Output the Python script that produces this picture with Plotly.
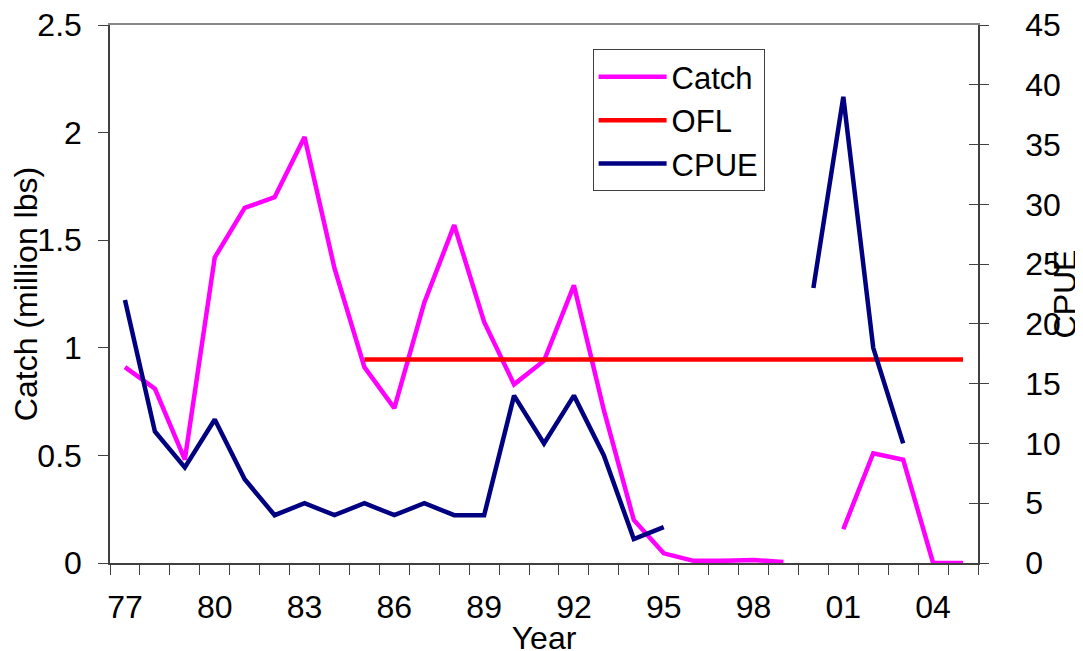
import plotly.graph_objects as go

# ---- data ----
years = list(range(1977, 2006))
catch = [0.91, 0.81, 0.48, 1.42, 1.65, 1.70, 1.98, 1.37, 0.91, 0.72,
         1.21, 1.57, 1.12, 0.83, 0.94, 1.29, 0.71, 0.20, 0.045, 0.01,
         0.01, 0.014, 0.005, None, 0.157, 0.51, 0.48, 0.0, 0.0]
ofl = [None] * 8 + [0.946] * 21
cpue = [22, 11, 8, 12, 7, 4, 5, 4, 5, 4,
        5, 4, 4, 14, 10, 14, 9, 2, 3, None,
        None, None, None, 23, 39, 18, 10, None, None]
label_years = [1977, 1980, 1983, 1986, 1989, 1992, 1995, 1998, 2001, 2004]
label_text = ["77", "80", "83", "86", "89", "92", "95", "98", "01", "04"]

FONT = "Liberation Sans, Arial, sans-serif"
AX = "#404040"
FS = 32

fig = go.Figure()
fig.add_trace(go.Scatter(x=years, y=catch, name="Catch", mode="lines",
                         line=dict(color="#FF00FF", width=4.5),
                         xaxis="x", yaxis="y"))
fig.add_trace(go.Scatter(x=years, y=ofl, name="OFL", mode="lines",
                         line=dict(color="#FF0000", width=4.5),
                         xaxis="x", yaxis="y"))
fig.add_trace(go.Scatter(x=years, y=cpue, name="CPUE", mode="lines",
                         line=dict(color="#000080", width=4.5),
                         xaxis="x2", yaxis="y2"))
# frame subplot (top border + inner right ticks), carries no data
fig.add_trace(go.Scatter(x=[None], y=[None], mode="lines", showlegend=False,
                         hoverinfo="skip", xaxis="x3", yaxis="y3"))

xr = [years[0] - 0.5, years[-1] + 0.5]

fig.update_layout(
    width=1083, height=651,
    margin=dict(l=102, r=113, t=17, b=96),
    paper_bgcolor="white", plot_bgcolor="white",
    font=dict(family=FONT, size=FS, color="black"),
    showlegend=True,
    legend=dict(x=0.556, y=0.955, xanchor="left", yanchor="top",
                bgcolor="white", bordercolor=AX, borderwidth=1,
                font=dict(size=31), tracegroupgap=0, itemwidth=68),
    xaxis=dict(range=xr, tickmode="linear", tick0=xr[0], dtick=1,
               ticks="outside", ticklen=10, tickcolor=AX, tickwidth=1,
               showticklabels=False, showline=True, linecolor=AX,
               linewidth=1.5, showgrid=False, zeroline=False,
               automargin=False,
               title=dict(text="Year", font=dict(size=FS), standoff=53)),
    xaxis2=dict(range=xr, overlaying="x", anchor="y2", side="bottom",
                tickmode="array", tickvals=label_years, ticktext=label_text,
                ticks="outside", ticklen=16, tickcolor="rgba(0,0,0,0)",
                showline=False, showgrid=False, zeroline=False,
                automargin=False, tickfont=dict(size=FS)),
    xaxis3=dict(range=xr, overlaying="x", side="top", anchor="y3",
                showline=True, linecolor="#888888", linewidth=1.5,
                showticklabels=False, ticks="", showgrid=False,
                zeroline=False, automargin=False),
    yaxis=dict(range=[0, 2.5], tickmode="linear", tick0=0, dtick=0.5,
               ticks="outside", ticklen=10, tickcolor=AX,
               showline=True, linecolor=AX, linewidth=1.5,
               showgrid=False, zeroline=False, ticklabelstandoff=10,
               ticklabeloverflow="allow", automargin=False,
               title=dict(text="Catch (million lbs)", font=dict(size=FS),
                          standoff=0)),
    yaxis2=dict(range=[0, 45], tickmode="linear", tick0=0, dtick=5,
                overlaying="y", side="right", anchor="x",
                ticks="outside", ticklen=9, tickcolor=AX,
                showline=True, linecolor=AX, linewidth=1.5,
                showgrid=False, zeroline=False, ticklabelstandoff=30,
                ticklabeloverflow="allow", automargin=False),
    yaxis3=dict(range=[0, 45], tickmode="linear", tick0=0, dtick=5,
                overlaying="y", side="right", anchor="x3",
                ticks="inside", ticklen=9, tickcolor=AX,
                showticklabels=False, showline=False,
                showgrid=False, zeroline=False, automargin=False,
                title=dict(text="CPUE", font=dict(size=FS), standoff=75)),
)

fig.write_html("out.html")
